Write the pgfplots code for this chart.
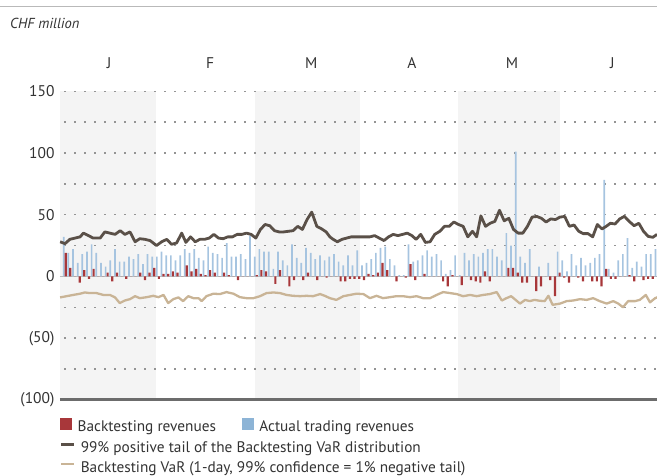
\documentclass[border=0pt]{standalone}
\usepackage{fontspec}
\setmainfont{PT Sans}
\usepackage{pgfplots}
\pgfplotsset{compat=1.18}
\usepackage{pgfplotstable}

\definecolor{barred}{HTML}{A8373A}
\definecolor{barblue}{HTML}{A6C4E0}
\definecolor{legblue}{HTML}{8DB4D6}
\definecolor{darkline}{HTML}{5A5048}
\definecolor{tanline}{HTML}{C9B496}
\definecolor{band}{HTML}{F4F4F4}
\definecolor{gridc}{HTML}{949494}
\definecolor{txt}{HTML}{333333}

\pgfplotstableread{
k act bt
0 32 19
1 19 7
2 22 0
3 11 -5
4 18 5
5 20 -2
6 26 6
7 19 0
8 11 0
9 8 3
10 13 -4
11 22 3
12 12 0
13 12 -2
14 16 0
15 14 0
16 18 3
17 10 -3
18 18 3
19 16 7
20 16 -2
21 20 2
22 17 2
23 17 4
24 13 3
25 17 0
26 22 9
27 19 4
28 22 6
29 15 2
30 13 1
31 24 5
32 19 3
33 18 0
34 15 3
35 27 1
36 16 0
37 16 -3
38 18 0
39 14 0
40 33 0
41 16 1
42 22 5
43 20 4
44 20 0
45 6 -6
46 20 5
47 13 0
48 9 -8
49 26 -3
50 15 0
51 11 -3
52 23 3
53 19 0
54 14 -3
55 17 0
56 13 -1
57 16 0
58 18 0
59 12 -4
60 9 -4
61 17 -2
62 9 -2
63 21 -2
64 9 -3
65 11 2
66 14 1
67 19 3
68 23 11
69 24 5
70 14 0
71 9 -4
72 1 0
73 1 -1
74 26 10
75 12 -3
76 13 0
77 17 2
78 21 0
79 16 0
80 18 0
81 13 -4
82 2 -8
83 5 1
84 17 0
85 1 -7
86 19 0
87 13 -3
88 18 -4
89 16 -5
90 19 4
91 22 -4
92 22 0
93 16 0
94 13 0
95 35 7
96 25 7
97 101 3
98 16 -5
99 11 -5
100 22 0
101 0 -12
102 8 -8
103 0 0
104 11 -3
105 0 -16
106 20 3
107 13 -1
108 4 -5
109 18 0
110 9 -1
111 15 -4
112 9 0
113 11 -4
114 15 -4
115 18 -8
116 78 6
117 6 -2
118 3 -2
119 13 0
120 18 0
121 31 1
122 7 -4
123 12 0
124 8 -3
125 18 -2
126 18 -2
127 22 0
}\revtable

\pgfplotstableread{
k v
-0.9 28
0.15 26.5
1.2 30
3.4 32
4.1 35
5.2 33
6.2 31
7.7 31
8.7 36
9.8 35
10.9 34
12 37
13 34
14.1 36
15.2 28
16.2 30.5
17.3 30
18.4 29
19.8 25
20.9 28
22 30
23 26
24.1 27
25.2 35
26.1 27.5
27.1 32
28.1 28
29.1 30
30.1 30
31.1 31
32.1 34
33.1 31
34.1 30.5
35.1 32
36.1 32
37.1 34
38.1 34
39.1 35
40.1 34
41.1 31
42.1 38
43.1 42
44.1 41
45.1 37
46.1 36
47.1 36
48.1 36.5
49.1 37
50.1 40.5
51.1 38
52.1 46
53.1 52
54.2 40.5
55.2 38.5
56.2 36
57 32
57.7 30
58.6 28
59.6 30
61.6 32
63.6 32
65.6 32
66.6 33
67.6 31
68.6 29
69.6 32
70.6 34
71.6 33
72.6 34
73.6 35
74.6 33
75.5 30
76.5 34
77.5 27.5
78.5 28
79.5 34
80.6 36.5
81.6 40.5
82.6 40.5
83.6 44
84.6 42
85.6 40.5
86.6 32
87.6 36.5
88.5 32
89.4 49
90.4 40.5
91.4 43
92.4 44.5
93.4 53.5
94.4 45
95.4 47
96.4 38
97.4 35
98.4 35
99.4 40.5
100.4 48
101.4 48.5
102.4 47
103.4 44
104.4 46.5
105.4 46
106.4 48
107.4 48.5
108.4 40.5
109.4 41.6
110.4 36.5
111.4 34.6
112.4 34.6
113.4 32
114.4 42
115.4 38.4
116.3 40.5
117.2 43
118.2 42.4
119.2 46.5
120.2 48.6
121.2 44.6
122.3 41
123.3 43
124.3 36.5
125.3 32.4
126.3 31.6
127.2 34
}\tailtable

\pgfplotstableread{
k v
-0.9 -17
0.5 -16
1.9 -15
3.4 -14
4.4 -13
5.5 -13.5
6.9 -13.5
8.4 -15
9.8 -15
10.9 -17
11.9 -21.6
13 -19.5
14.1 -18.4
15.2 -16
16.2 -17.6
17.7 -16.8
19.1 -15.7
20.2 -16.8
21.3 -15
22.3 -21.6
23.4 -18.4
24.5 -17
25.5 -20
26.6 -16
27.7 -17.6
28.8 -17.6
29.5 -20
30.5 -16
32 -14
33.4 -14.3
34.8 -12.7
36.3 -14
37.7 -16.8
39.1 -17.6
40.6 -17.6
42 -16
43.4 -13.5
44.9 -13
46.3 -13.5
47.7 -15
49.1 -15.7
50.6 -16
52 -15.7
53.4 -16
54.9 -14.3
55.9 -15.7
57 -17.6
58.4 -19
59.9 -16
61.3 -15
62.7 -14
64.2 -14.3
65.6 -17.6
67 -15.7
68.4 -17.6
69.9 -16.8
71.3 -16
72.7 -16
74.2 -16.8
75.6 -16
77 -17.6
78.5 -17.6
79.9 -15
81.3 -12.7
82.8 -13.5
84.2 -14.3
85.6 -16
87.1 -15
88.5 -16
89.9 -15
91.3 -14.3
92.8 -12.7
93.9 -19.5
94.9 -17.6
95.9 -16
97.8 -22
98.9 -19
99.9 -20
100.9 -19
102 -19.7
103.1 -20
103.9 -15.7
104.8 -23
106.4 -22
107.8 -20
109.2 -19.5
110.7 -18.4
112.1 -19
113.5 -17.6
114.9 -20
116.4 -22
117.8 -20
118.9 -22
119.9 -25
121 -20
122.5 -20
123.5 -19
124.8 -15
125.7 -21
126.8 -17.6
127.9 -16
}\vartable

\begin{document}
\begin{tikzpicture}
\useasboundingbox (-60pt,-75pt) rectangle (597pt,400pt);
% top rule
\draw[gray!55, line width=1pt] (-60pt,393.5pt) -- (597pt,393.5pt);
\node[anchor=west, font=\fontsize{14.5}{17}\selectfont\itshape, text=txt, inner sep=0pt] at (-50pt,377pt) {CHF million};
\begin{axis}[
  at={(0pt,0pt)}, anchor=south west,
  scale only axis, width=597pt, height=309pt,
  xmin=-0.92, xmax=127.2, ymin=-100, ymax=150,
  axis line style={draw=none},
  ytick={-100,-50,0,50,100,150},
  yticklabels={(100),(50),0,50,100,150},
  major tick length=0pt,
  tick style={draw=none},
  yticklabel style={font=\fontsize{15.5}{18}\selectfont, text=txt, xshift=-2pt},
  xtick={9.6,31.3,53,74.6,96.1,117.6},
  xticklabels={J,F,M,A,M,J},
  xticklabel pos=upper,
  xticklabel style={font=\fontsize{15.5}{18}\selectfont, text=txt, yshift=19pt},
  legend columns=2,
  legend cell align=left,
  legend style={at={(axis description cs:0,0)}, anchor=north west, xshift=0pt, yshift=-18pt,
    draw=none, fill=none, inner sep=0pt, font=\fontsize{15.3}{18}\selectfont, text=txt,
    nodes={inner sep=1pt, text height=10pt, text depth=3pt},
    /tikz/every odd column/.append style={column sep=5pt},
    /tikz/every even column/.append style={column sep=25pt}},
]
% month bands
\addplot[draw=none, fill=band, forget plot] coordinates {(-0.92,-100) (-0.92,150) (19.7,150) (19.7,-100)};
\addplot[draw=none, fill=band, forget plot] coordinates {(40.9,-100) (40.9,150) (63.4,150) (63.4,-100)};
\addplot[draw=none, fill=band, forget plot] coordinates {(84.5,-100) (84.5,150) (106.4,150) (106.4,-100)};
% dotted grid
\pgfplotsinvokeforeach{-75,-50,-25,25,50,75,100,125,150}{
  \addplot[gridc, line width=1.6pt, dash pattern=on 1.6pt off 8.4pt, forget plot] coordinates {(0,#1) (127.2,#1)};
}
% zero line
\addplot[gray!55, line width=0.7pt, forget plot] coordinates {(-0.92,0) (127.2,0)};
% bars
\addplot[ybar, bar width=1.7pt, bar shift=-0.6pt, fill=barblue, draw=none, forget plot] table[x=k, y=act] {\revtable};
\addplot[ybar, bar width=2.2pt, bar shift=1.4pt, fill=barred, draw=none, forget plot] table[x=k, y=bt] {\revtable};
% lines
\addplot[darkline, line width=2.8pt, line join=round, forget plot] table[x=k, y=v] {\tailtable};
\addplot[tanline, line width=2.3pt, line join=round, forget plot] table[x=k, y=v] {\vartable};
% bottom axis line
\addplot[gray!85!black, line width=3.5pt, forget plot] coordinates {(-0.92,-100) (127.2,-100)};
% legend entries
\addlegendimage{legend image code/.code={\fill[barred] (0pt,-1pt) rectangle (11pt,10pt);}}
\addlegendentry{Backtesting revenues}
\addlegendimage{legend image code/.code={\fill[legblue] (0pt,-1pt) rectangle (11pt,10pt);}}
\addlegendentry{Actual trading revenues}
\end{axis}
\begin{axis}[
  at={(0pt,0pt)}, anchor=south west,
  scale only axis, width=597pt, height=309pt,
  hide axis, xmin=0, xmax=1, ymin=0, ymax=1,
  legend cell align=left,
  legend style={at={(axis description cs:0,0)}, anchor=north west, xshift=0pt, yshift=-41pt,
    draw=none, fill=none, inner sep=0pt, font=\fontsize{15.3}{18}\selectfont, text=txt,
    nodes={inner sep=1pt, text height=10pt, text depth=3pt}, row sep=5pt,
    /tikz/every odd column/.append style={column sep=4pt}},
]
\addplot[draw=none, forget plot] coordinates {(0,0) (1,1)};
\addlegendimage{legend image code/.code={\draw[darkline, line width=2.6pt] (0pt,4.5pt) -- (13pt,4.5pt);}}
\addlegendentry{99\% positive tail of the Backtesting VaR distribution}
\addlegendimage{legend image code/.code={\draw[tanline, line width=2.2pt] (0pt,4.5pt) -- (13pt,4.5pt);}}
\addlegendentry{Backtesting VaR (1-day, 99\% confidence = 1\% negative tail)}
\end{axis}
\end{tikzpicture}
\end{document}
